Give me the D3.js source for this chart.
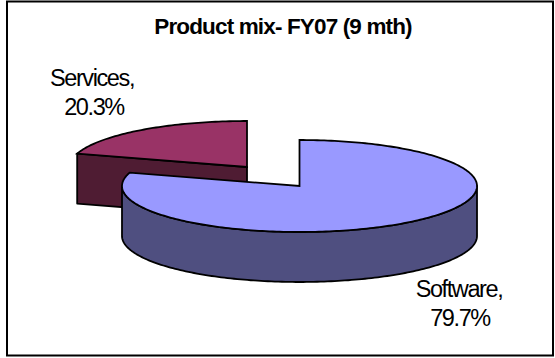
<!DOCTYPE html>
<html>
<head>
<meta charset="utf-8">
<script src="https://cdn.jsdelivr.net/npm/d3@7"></script>
<style>
  html, body { margin: 0; padding: 0; background: #fff; }
  svg { display: block; }
  text { font-family: "Liberation Sans", Arial, sans-serif; fill: #000; }
</style>
</head>
<body>
<svg id="chart" width="555" height="358"></svg>
<script>
// Product mix, share of revenue by line
const categories = ["Software", "Services"];
const shares = [79.7, 20.3];
const chartTitle = "Product mix- FY07 (9 mth)";

const topColors = ["#9999ff", "#993366"];
const wallColors = ["#4f4f80", "#4f1c33"];

const rx = 177.5, ry = 46, depth = 50;
// Rim centre for each slice; the smaller slice is pulled out to the upper left
const centres = [{ x: 299.5, y: 186 }, { x: 247, y: 167 }];

const svg = d3.select("#chart");

svg.append("rect")
  .attr("x", 7).attr("y", 1.5).attr("width", 546).attr("height", 354)
  .attr("fill", "#fff").attr("stroke", "#000").attr("stroke-width", 2);

const pie = d3.pie().sort(null).value(d => d);
const arcs = pie(shares);

const rimPoint = (c, a, drop = 0) => [
  c.x + rx * Math.sin(a),
  c.y - ry * Math.cos(a) + drop
];
const angles = (a0, a1) => {
  const n = Math.max(2, Math.ceil(Math.abs(a1 - a0) / 0.02));
  return d3.range(n + 1).map(i => a0 + (a1 - a0) * i / n);
};
const line = d3.line();

// Visible side of a slice: outer wall where it faces front, cut face for the pulled-out slice
function wallPath(arc, c, i) {
  if (i === 0) {
    const from = Math.PI / 2;
    const to = 3 * Math.PI / 2;
    const upper = angles(from, to).map(a => rimPoint(c, a));
    const lower = angles(to, from).map(a => rimPoint(c, a, depth));
    return line(upper.concat(lower)) + "Z";
  }
  const p = rimPoint(c, arc.startAngle);
  const apex = [c.x, c.y];
  return line([p, apex, [apex[0], apex[1] + depth], [p[0], p[1] + depth]]) + "Z";
}

function topPath(arc, c) {
  const rim = angles(arc.startAngle, arc.endAngle).map(a => rimPoint(c, a));
  return line([[c.x, c.y], ...rim]) + "Z";
}

// Back slice first so the large slice overlaps it
[1, 0].forEach(i => {
  const g = svg.append("g").attr("class", categories[i]);
  g.append("path").attr("d", wallPath(arcs[i], centres[i], i))
    .attr("fill", wallColors[i]).attr("stroke", "#000")
    .attr("stroke-width", 1.8).attr("stroke-linejoin", "round");
  g.append("path").attr("d", topPath(arcs[i], centres[i]))
    .attr("fill", topColors[i]).attr("stroke", "#000")
    .attr("stroke-width", 1.8).attr("stroke-linejoin", "miter");
});

svg.append("text")
  .attr("x", 283).attr("y", 34)
  .attr("text-anchor", "middle")
  .attr("font-size", 22.5).attr("font-weight", "bold")
  .attr("letter-spacing", -0.85)
  .text(chartTitle);

const labelAnchors = [{ x: 459, y: 297 }, { x: 92, y: 86 }];
categories.forEach((name, i) => {
  const t = svg.append("text")
    .attr("text-anchor", "middle")
    .attr("font-size", 23.5)
    .attr("letter-spacing", -1.4);
  t.append("tspan").attr("x", labelAnchors[i].x).attr("y", labelAnchors[i].y).text(name + ",");
  t.append("tspan").attr("x", labelAnchors[i].x + (i ? 2 : 1)).attr("y", labelAnchors[i].y + 29)
    .text(d3.format(".1f")(shares[i]) + "%");
});
</script>
</body>
</html>
